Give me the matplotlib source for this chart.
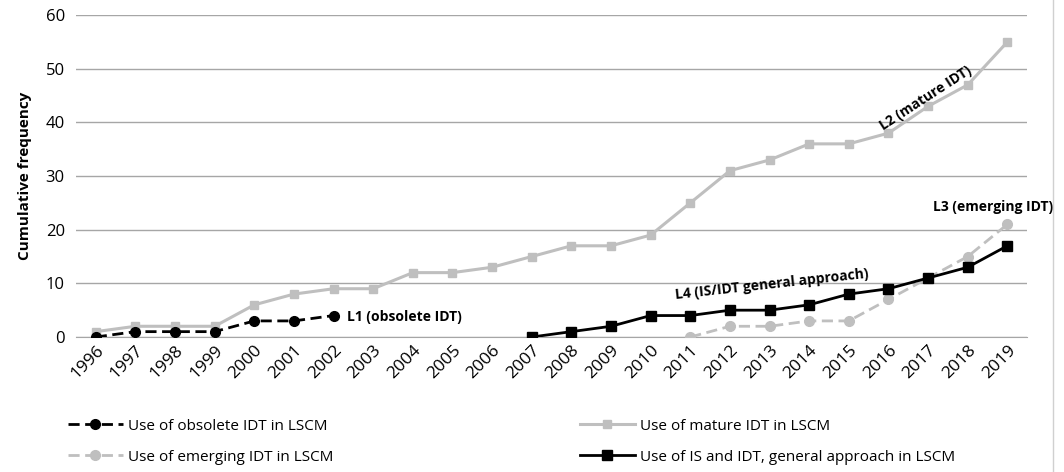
import matplotlib
matplotlib.use("Agg")
import matplotlib.pyplot as plt
from matplotlib.lines import Line2D

years = [str(y) for y in range(1996, 2020)]

# cumulative counts per year
obsolete_years = years[0:7]
obsolete = [0, 1, 1, 1, 3, 3, 4]
mature = [1, 2, 2, 2, 6, 8, 9, 9, 12, 12, 13, 15, 17, 17, 19, 25, 31, 33, 36, 36, 38, 43, 47, 55]
emerging_years = years[15:]
emerging = [0, 2, 2, 3, 3, 7, 11, 15, 21]
general_years = years[11:]
general = [0, 1, 2, 4, 4, 5, 5, 6, 8, 9, 11, 13, 17]

plt.rcParams['font.family'] = ['Open Sans', 'DejaVu Sans']

gray = '#BFBFBF'
fig = plt.figure(figsize=(10.64, 4.72), dpi=100)
ax = fig.add_axes([0.0714, 0.286, 0.894, 0.682])

idx = {y: i for i, y in enumerate(years)}

l1, = ax.plot([idx[y] for y in obsolete_years], obsolete, color='black', ls='--', lw=2,
              marker='o', ms=7, dashes=(4, 2), zorder=4)
l2, = ax.plot(range(len(years)), mature, color=gray, lw=2.2, marker='s', ms=6, zorder=3)
l3, = ax.plot([idx[y] for y in emerging_years], emerging, color=gray, ls='--', lw=2,
              marker='o', ms=7, dashes=(4, 2), zorder=3)
l4, = ax.plot([idx[y] for y in general_years], general, color='black', lw=2,
              marker='s', ms=7.5, zorder=4)

ax.set_xlim(-0.5, len(years) - 0.5)
ax.set_ylim(0, 60)
ax.set_yticks(range(0, 61, 10))
ax.set_xticks(range(len(years)))
ax.set_xticklabels(years, rotation=45, ha='right', rotation_mode='anchor', fontsize=12.5)
ax.tick_params(axis='y', labelsize=12, length=0, pad=8)
ax.tick_params(axis='x', length=0, pad=4)
ax.grid(axis='y', color='#A6A6A6', lw=1)
ax.set_axisbelow(True)
for s in ['top', 'right', 'left']:
    ax.spines[s].set_visible(False)
ax.spines['bottom'].set_color('#A6A6A6')
ax.set_ylabel('Cumulative frequency', fontsize=11, fontweight='bold', labelpad=10)

ax.text(6.35, 3.8, 'L1 (obsolete IDT)', fontsize=10, fontweight='bold', va='center', ha='left')
ax.text(20.94, 44.5, 'L2 (mature IDT)', fontsize=10, fontweight='bold', va='center', ha='center',
        rotation=33)
ax.text(22.63, 24.2, 'L3 (emerging IDT)', fontsize=10, fontweight='bold', va='center', ha='center')
ax.text(17.05, 9.9, 'L4 (IS/IDT general approach)', fontsize=10, fontweight='bold', va='center',
        ha='center', rotation=6.3)

leg1 = fig.legend([l1, l3], ['Use of obsolete IDT in LSCM', 'Use of emerging IDT in LSCM'],
                  loc='center left', bbox_to_anchor=(0.058, 0.064), frameon=False,
                  fontsize=11, handlelength=3.6, handletextpad=0.35, labelspacing=1.05,
                  borderaxespad=0)
leg2 = fig.legend([l2, l4], ['Use of mature IDT in LSCM',
                             'Use of IS and IDT, general approach in LSCM'],
                  loc='center left', bbox_to_anchor=(0.539, 0.064), frameon=False,
                  fontsize=11, handlelength=3.6, handletextpad=0.35, labelspacing=1.05,
                  borderaxespad=0)

# thin frame edge on the right
fig.add_artist(Line2D([0.9895, 0.9895], [0.0, 1.0], color='#D0D0D0', lw=1))

fig.savefig('out.png', dpi=100)
